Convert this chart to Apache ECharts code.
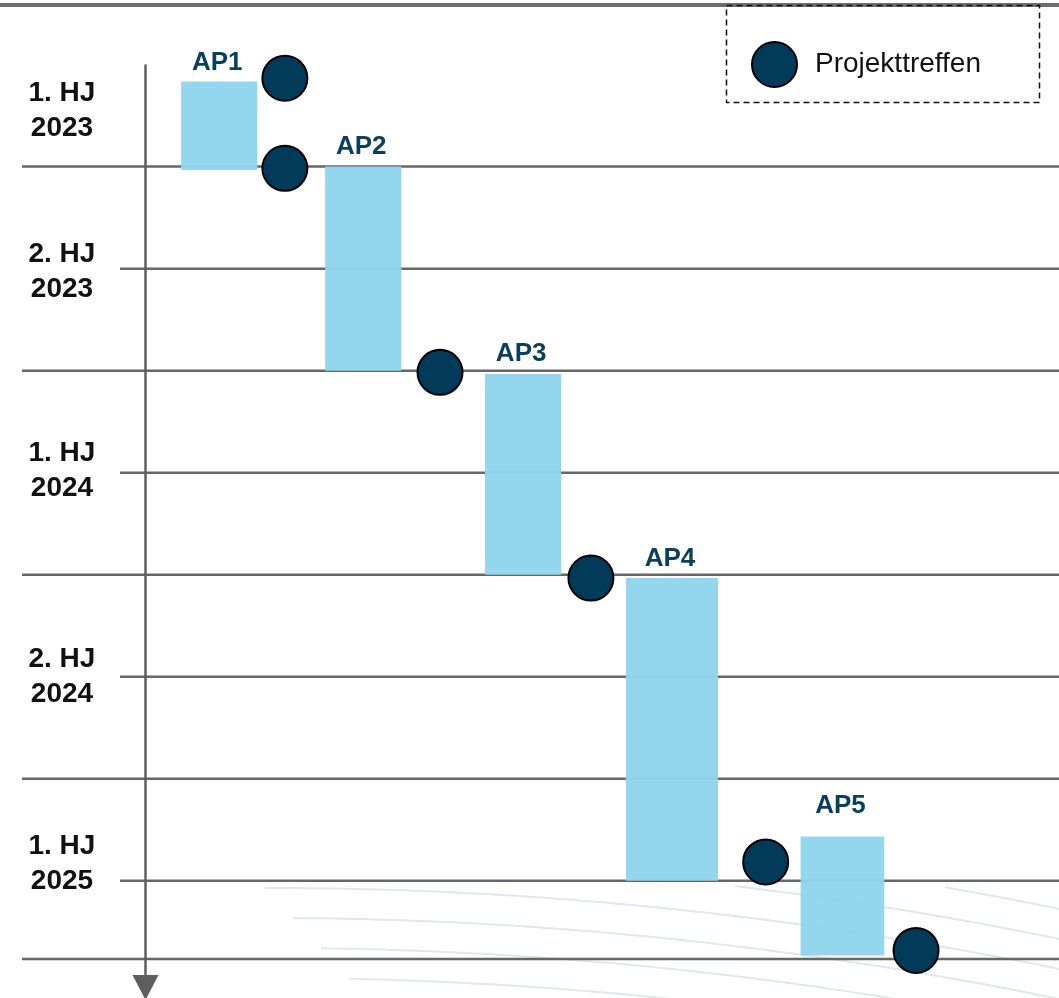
<!DOCTYPE html>
<html>
<head>
<meta charset="utf-8">
<script src="https://cdn.jsdelivr.net/npm/echarts@6/dist/echarts.min.js"></script>
<style>
  html, body { margin: 0; padding: 0; background: #ffffff; }
  #chart { width: 1059px; height: 998px; }
</style>
</head>
<body>
<div id="chart"></div>
<script>
// Work packages, start and end in months counted from January 2023
const packages = ['AP1', 'AP2', 'AP3', 'AP4', 'AP5'];
const packageStart = [3.5, 6, 12.1, 18.1, 25.7];
const packageEnd = [6.1, 12, 18, 27, 29.2];

// Project meetings (months from January 2023)
const meetings = [3.4, 6.05, 12.05, 18.1, 26.45, 29.05];

// Half-year labels and where they sit on the time axis
const periodLabels = ['1. HJ\n2023', '2. HJ\n2023', '1. HJ\n2024', '2. HJ\n2024', '1. HJ\n2025'];
const periodLabelAt = [4.35, 9.1, 14.95, 21, 26.5];

// Guide lines across the timeline: long and short marks
const majorMarks = [6, 12, 18, 24, 29.3];
const minorMarks = [9, 15, 21, 27];

// Time axis extent and the point where the drawn arrow starts
const TIME_MIN = 1.1;
const TIME_MAX = 30.45;
const ARROW_FROM = 3;

// Horizontal layout in percent of the chart width
const LAYOUT = {
  barLanes: [[17.1, 24.3], [30.7, 37.9], [45.8, 53.0], [59.1, 67.8], [75.6, 83.5]],
  labelGap: [18.5, 20, 20, 19.5, 31],
  meetingLanes: [26.9, 26.9, 41.55, 55.8, 72.3, 86.5],
  axisX: 13.69,
  periodLabelX: 5.85,
  majorStart: 2.08,
  minorStart: 11.33
};

const FONT = "'Liberation Sans', Arial, Helvetica, sans-serif";
const NAVY = '#023a5a';
const LINE_GREY = '#666666';

const chart = echarts.init(document.getElementById('chart'), null, { renderer: 'canvas' });

// Soft wave pattern in the lower right background
function waveLines() {
  const out = [];
  for (let k = -3; k <= 3; k++) {
    const pts = [];
    const startX = 265 + Math.max(0, k) * 28;
    for (let x = startX; x <= 1070; x += 10) {
      const y = 888 + 30 * k + 0.00013 * Math.pow(Math.max(0, x - 270), 2);
      if (y >= 886 && y <= 1000) pts.push([x, y]);
    }
    if (pts.length > 1) {
      out.push({
        type: 'polyline',
        shape: { points: pts },
        style: { stroke: '#e1e7ec', lineWidth: 2, fill: null },
        silent: true,
        z: -10
      });
    }
  }
  return out;
}

const graphics = [
  // header rule across the top
  { type: 'rect', shape: { x: 0, y: 3, width: 1059, height: 4 }, style: { fill: '#6e6e6e' }, z: 5 },
  // dashed frame round the legend
  {
    type: 'rect', shape: { x: 726.5, y: 5.5, width: 313, height: 97 },
    style: { fill: null, stroke: '#111111', lineWidth: 1.5, lineDash: [6, 4] }, z: 6
  }
].concat(waveLines());

const option = {
  animation: false,
  backgroundColor: '#ffffff',
  grid: { left: 0, right: 0, top: 0, bottom: 0 },
  xAxis: { type: 'value', min: 0, max: 100, show: false },
  yAxis: { type: 'value', inverse: true, min: TIME_MIN, max: TIME_MAX, show: false },
  legend: {
    data: ['Projekttreffen'],
    left: 746, top: 36,
    icon: 'circle',
    itemWidth: 45, itemHeight: 45,
    textStyle: { fontFamily: FONT, fontSize: 28, color: '#111111', padding: [0, 0, 0, 13] },
    selectedMode: false
  },
  graphic: graphics,
  series: [
    {
      // long and short guide lines
      type: 'custom',
      silent: true,
      z: 1,
      renderItem: function (params, api) {
        const t = api.value(0);
        const startX = api.value(1);
        const a = api.coord([startX, t]);
        const b = api.coord([100, t]);
        return {
          type: 'line',
          shape: { x1: a[0], y1: a[1], x2: b[0], y2: b[1] },
          style: { stroke: LINE_GREY, lineWidth: 2.5 }
        };
      },
      data: majorMarks.map(t => [t, LAYOUT.majorStart]).concat(minorMarks.map(t => [t, LAYOUT.minorStart]))
    },
    {
      // the vertical time arrow
      type: 'custom',
      silent: true,
      z: 1,
      renderItem: function (params, api) {
        const top = api.coord([LAYOUT.axisX, api.value(0)]);
        const end = api.coord([LAYOUT.axisX, api.value(1)]);
        const headLen = 23;
        const x = Math.round(top[0]) + 0.5;
        return {
          type: 'group',
          children: [
            {
              type: 'line',
              shape: { x1: x, y1: top[1], x2: x, y2: end[1] - headLen + 2 },
              style: { stroke: '#5e5e5e', lineWidth: 2.5 }
            },
            {
              type: 'polygon',
              shape: { points: [[x - 13, end[1] - headLen], [x + 13, end[1] - headLen], [x, end[1] + 2]] },
              style: { fill: '#5e5e5e' }
            }
          ]
        };
      },
      data: [[ARROW_FROM, TIME_MAX]]
    },
    {
      // half-year captions
      type: 'custom',
      silent: true,
      z: 3,
      renderItem: function (params, api) {
        const p = api.coord([LAYOUT.periodLabelX, api.value(1)]);
        return {
          type: 'text',
          x: p[0], y: p[1],
          style: {
            text: periodLabels[params.dataIndex],
            font: 'bold 28px ' + FONT,
            lineHeight: 35,
            fill: '#111111',
            align: 'center',
            verticalAlign: 'middle'
          }
        };
      },
      data: periodLabelAt.map((t, i) => [i, t])
    },
    {
      // work package bars with their names
      type: 'custom',
      silent: true,
      z: 4,
      renderItem: function (params, api) {
        const i = params.dataIndex;
        const lane = LAYOUT.barLanes[i];
        const p1 = api.coord([lane[0], api.value(1)]);
        const p2 = api.coord([lane[1], api.value(2)]);
        return {
          type: 'group',
          children: [
            {
              type: 'rect',
              shape: { x: p1[0], y: p1[1], width: p2[0] - p1[0], height: p2[1] - p1[1] },
              style: { fill: '#8fd4ec', opacity: 0.96 }
            },
            {
              type: 'text',
              x: (p1[0] + p2[0]) / 2 - 2,
              y: p1[1] - LAYOUT.labelGap[i],
              style: {
                text: packages[i],
                font: 'bold 26px ' + FONT,
                fill: '#0b3f5e',
                align: 'center',
                verticalAlign: 'middle'
              }
            }
          ]
        };
      },
      data: packages.map((name, i) => [i, packageStart[i], packageEnd[i]])
    },
    {
      name: 'Projekttreffen',
      type: 'scatter',
      z: 5,
      symbol: 'circle',
      symbolSize: 45,
      itemStyle: { color: NAVY, borderColor: '#000000', borderWidth: 2, opacity: 1 },
      data: meetings.map((t, i) => [LAYOUT.meetingLanes[i], t])
    }
  ]
};

chart.setOption(option);
</script>
</body>
</html>
